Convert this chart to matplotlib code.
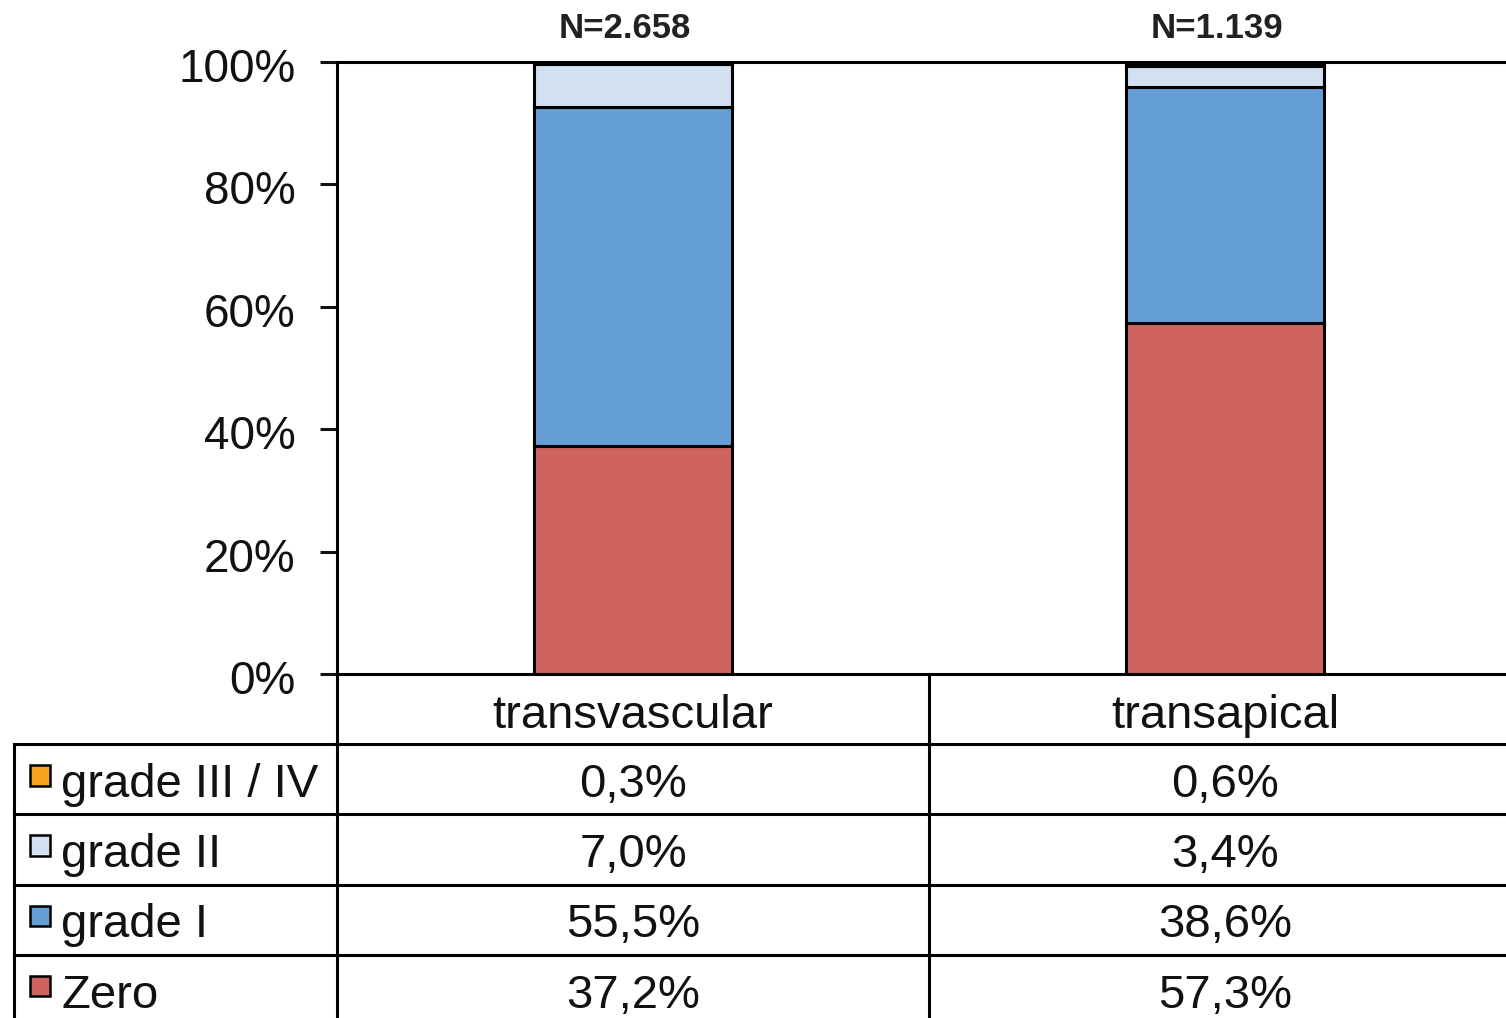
import matplotlib.pyplot as plt
import matplotlib.transforms as mtransforms
from matplotlib.patches import Rectangle

plt.rcParams['font.family'] = ['Liberation Sans', 'DejaVu Sans']

# --- data ---
approaches = ['transvascular', 'transapical']
n_labels = ['N=2.658', 'N=1.139']
grades = ['Zero', 'grade I', 'grade II', 'grade III / IV']   # bottom to top
values = {
    'Zero':           [37.2, 57.3],
    'grade I':        [55.5, 38.6],
    'grade II':       [7.0, 3.4],
    'grade III / IV': [0.3, 0.6],
}
colors = {
    'Zero': '#CF645F',
    'grade I': '#659ED6',
    'grade II': '#D1E1F2',
    'grade III / IV': '#F7A41C',
}
yticks = [0, 20, 40, 60, 80, 100]

W, H = 1506, 1018
LW = 2.2
fig = plt.figure(figsize=(W / 100, H / 100), dpi=100)

# pixel layout of the plot area (right edge runs past the figure)
x0, x1 = 337, 1521
y_top, y_bot = 62, 674
ax = fig.add_axes([x0 / W, 1 - y_bot / H, (x1 - x0) / W, (y_bot - y_top) / H])

xs = [0.5, 1.5]
bottom = [0.0, 0.0]
for g in grades:
    ax.bar(xs, values[g], 0.336, bottom=bottom, color=colors[g],
           edgecolor='black', linewidth=LW, zorder=3)
    bottom = [b + v for b, v in zip(bottom, values[g])]

ax.set_xlim(0, 2)
ax.set_ylim(0, 100)
ax.set_yticks(yticks)
ax.set_yticklabels([f'{t}%' for t in yticks], fontsize=33)
ax.set_xticks([])
ax.tick_params(axis='y', length=12, width=LW, pad=18, colors='#111111')
shift = mtransforms.ScaledTranslation(0, -3 / 100, fig.dpi_scale_trans)
for lbl in ax.get_yticklabels():
    lbl.set_transform(lbl.get_transform() + shift)
for s in ['left', 'top', 'bottom']:
    ax.spines[s].set_linewidth(LW)
ax.spines['right'].set_visible(False)

for x, lab in zip(xs, n_labels):
    ax.text(x - 0.013, 102.8, lab, ha='center', va='bottom', fontsize=25,
            fontweight='bold', color='#222222', clip_on=False)

# --- data table below the plot ---
left_col = (x0 - 14) / ((x1 - x0) / 2)
tb_bot = 1025
tax = fig.add_axes([14 / W, 1 - tb_bot / H, (x1 - 14) / W, (tb_bot - y_bot) / H])
tax.set_xlim(-left_col, 2)
tax.set_ylim(5, 0)
tax.axis('off')

n_rows = len(grades) + 1
for r in range(1, n_rows + 1):
    tax.plot([-left_col, 2], [r, r], color='black', lw=LW, clip_on=False)
tax.plot([-left_col, -left_col], [1, n_rows], color='black', lw=LW, clip_on=False)
for xv in [0, 1, 2]:
    tax.plot([xv, xv], [0, n_rows], color='black', lw=LW, clip_on=False)

for i, name in enumerate(approaches):
    tax.text(i + 0.5, 0.6, name, ha='center', va='center', fontsize=34, color='#111111')

for r, g in enumerate(reversed(grades), start=1):
    tax.add_patch(Rectangle((-left_col + 0.027, r + 0.3), 0.034, 0.29,
                            facecolor=colors[g], edgecolor='black', lw=1.8))
    tax.text(-left_col + 0.08, r + 0.58, g, ha='left', va='center',
             fontsize=34, color='#111111')
    for i, v in enumerate(values[g]):
        txt = f'{v:.1f}%'.replace('.', ',')
        tax.text(i + 0.5, r + 0.58, txt, ha='center', va='center',
                 fontsize=34, color='#111111')

fig.savefig('out.png', dpi=100)
